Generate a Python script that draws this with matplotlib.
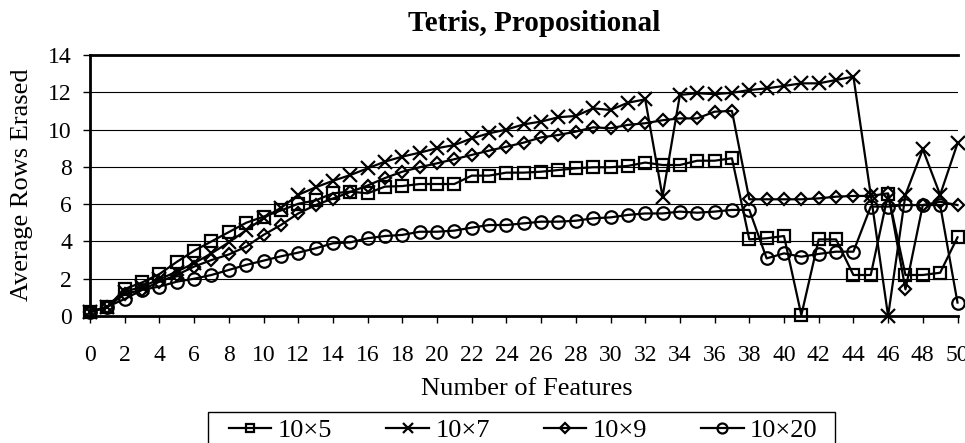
import matplotlib
matplotlib.use("Agg")
import matplotlib.pyplot as plt
from matplotlib.patches import Rectangle

plt.rcParams["font.family"] = ["Liberation Serif", "DejaVu Serif"]

# number of features on the x axis
features = list(range(0, 51))

rows_10x5 = [0.23, 0.48, 1.45, 1.8, 2.25, 2.9, 3.5, 4.0, 4.5, 5.0,
             5.33, 5.66, 6.02, 6.2, 6.58, 6.67, 6.58, 6.94, 6.97, 7.08,
             7.08, 7.08, 7.53, 7.53, 7.69, 7.69, 7.74, 7.83, 7.92, 7.98,
             7.98, 8.05, 8.23, 8.1, 8.1, 8.33, 8.33, 8.46, 4.11, 4.17,
             4.29, 0.05, 4.11, 4.11, 2.2, 2.2, 6.54, 2.2, 2.2, 2.32,
             4.22]
rows_10x7 = [0.2, 0.5, 1.3, 1.57, 1.97, 2.38, 2.83, 3.36, 3.95, 4.6,
             5.25, 5.8, 6.5, 6.9, 7.25, 7.56, 7.92, 8.28, 8.55, 8.76,
             9.0, 9.17, 9.53, 9.8, 10.0, 10.28, 10.43, 10.66, 10.73, 11.14,
             11.05, 11.44, 11.62, 6.4, 11.86, 11.95, 11.9, 11.97, 12.12, 12.21,
             12.34, 12.48, 12.48, 12.66, 12.84, 6.5, 0.0, 6.5, 8.94, 6.5,
             9.26]
rows_10x9 = [0.2, 0.5, 1.18, 1.4, 1.84, 2.2, 2.65, 3.0, 3.3, 3.72,
             4.35, 4.88, 5.5, 5.95, 6.3, 6.65, 7.0, 7.4, 7.74, 7.98,
             8.19, 8.41, 8.64, 8.87, 9.08, 9.3, 9.58, 9.71, 9.89, 10.12,
             10.07, 10.25, 10.34, 10.5, 10.6, 10.6, 10.96, 11.0, 6.26, 6.26,
             6.26, 6.26, 6.31, 6.4, 6.44, 6.44, 6.58, 1.43, 5.95, 6.13,
             5.95]
rows_10x20 = [0.2, 0.5, 0.91, 1.4, 1.58, 1.84, 2.0, 2.2, 2.47, 2.74,
              2.97, 3.2, 3.4, 3.63, 3.9, 3.95, 4.17, 4.29, 4.35, 4.52,
              4.52, 4.58, 4.74, 4.88, 4.88, 4.97, 5.06, 5.06, 5.11, 5.24,
              5.29, 5.42, 5.5, 5.5, 5.6, 5.54, 5.6, 5.69, 5.69, 3.09,
              3.36, 3.18, 3.33, 3.45, 3.45, 5.87, 5.87, 5.95, 5.95, 5.95,
              0.72]

series = [
    ("10\u00d75", rows_10x5, "s", 8),
    ("10\u00d77", rows_10x7, "x", 9.5),
    ("10\u00d79", rows_10x9, "D", 6.3),
    ("10\u00d720", rows_10x20, "o", 9),
]

W, H = 965, 443
fig = plt.figure(figsize=(W / 100, H / 100), dpi=100)
ax = fig.add_axes([90 / W, 1 - 316 / H, 867.5 / W, 261 / H])

for label, vals, mk, ms in series:
    ax.plot(features, vals, color="black", lw=1.6, marker=mk, ms=ms,
            mfc="none", mec="black", mew=1.6, label=label, clip_on=False)

ax.set_xlim(0, 50)
ax.set_ylim(0, 14)
ax.set_xticks(range(0, 51, 2))
ax.set_yticks(range(0, 15, 2))
ax.tick_params(axis="x", labelsize=17, length=5, width=1, pad=16, direction="out")
ax.tick_params(axis="y", labelsize=17, length=5, width=1, pad=8, direction="out")

ax.yaxis.grid(True, color="black", lw=0.8)
ax.set_axisbelow(True)

ax.spines["right"].set_visible(False)
for s in ["left", "bottom", "top"]:
    ax.spines[s].set_linewidth(2)

fig.text(534 / W, 1 - 31 / H, "Tetris, Propositional", fontsize=21,
         fontweight="bold", ha="center", va="baseline")
fig.text(22 / W, 1 - 185 / H, "Average Rows Erased", fontsize=19,
         rotation=90, ha="center", va="center")
fig.text(527 / W, 1 - 395 / H, "Number of Features", fontsize=19,
         ha="center", va="baseline")

# legend with a manual frame that runs off the bottom edge
fig.add_artist(Rectangle((208 / W, -0.05), 627 / W, 1 - 412 / H + 0.05,
                         transform=fig.transFigure, fill=False,
                         edgecolor="black", lw=1))
fig.legend(loc="center left", bbox_to_anchor=(216 / W, 1 - 430 / H),
           ncol=4, frameon=False, fontsize=19, borderpad=0, markerscale=0.8,
           handlelength=1.6, handletextpad=0.25, columnspacing=2.05)

fig.savefig("out.png", dpi=100)
